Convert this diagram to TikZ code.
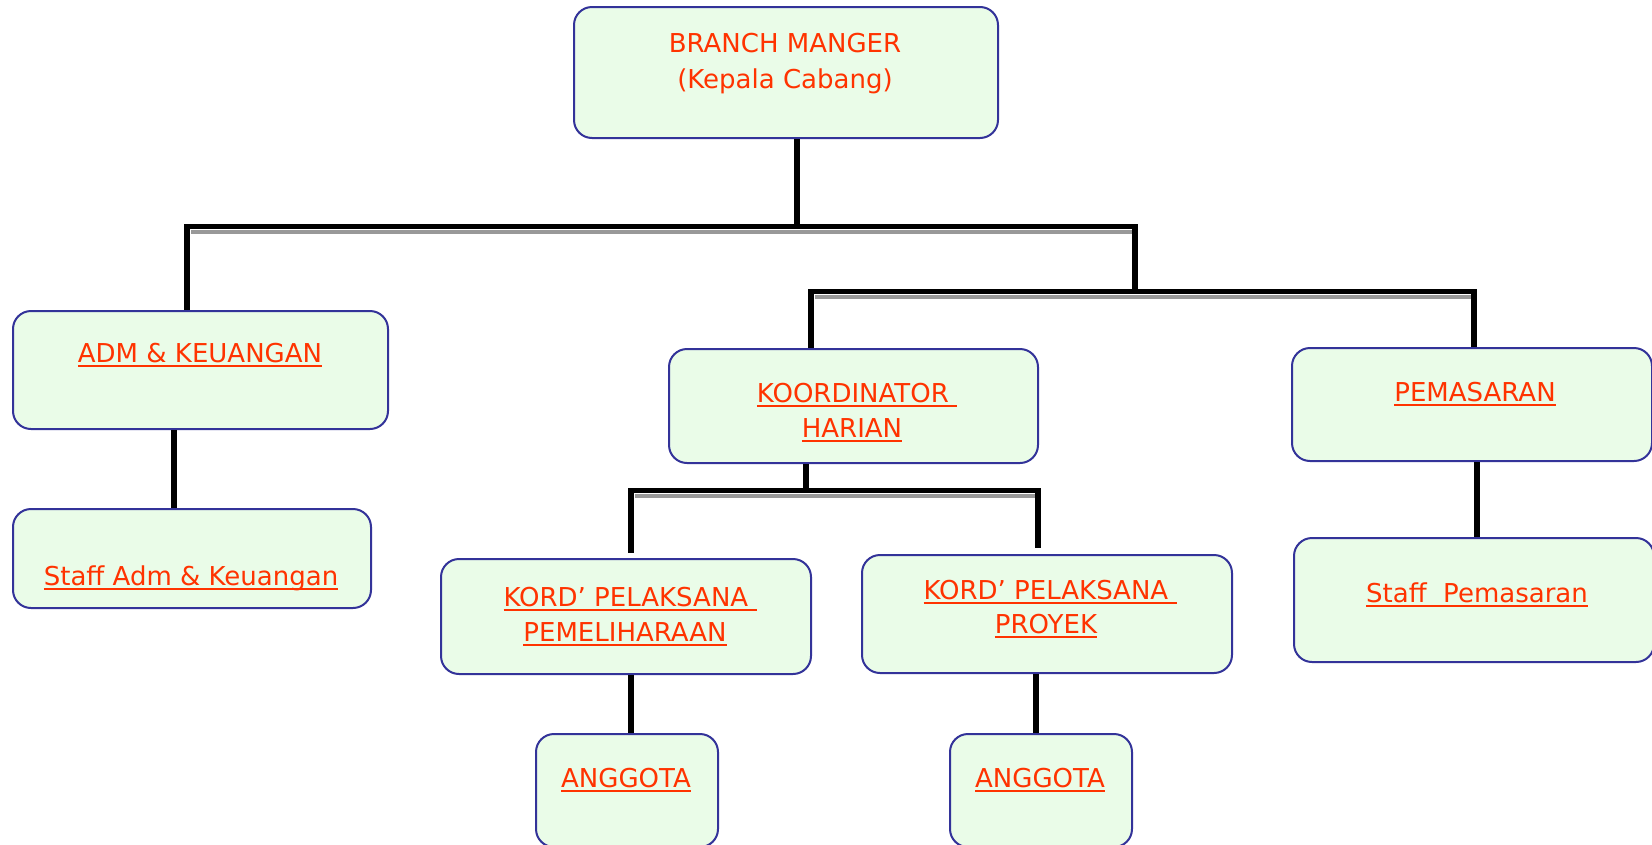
\documentclass[tikz,border=0pt]{standalone}
\usepackage{fontspec}
\setmainfont{DejaVu Sans}
\usetikzlibrary{calc}
\definecolor{boxline}{RGB}{51,51,153}
\definecolor{boxfill}{RGB}{234,252,232}
\definecolor{txtred}{RGB}{255,51,0}
\newcommand\ulx[1]{\setbox0\hbox{#1}\rlap{\rule[-4.7pt]{\wd0}{2pt}}\box0}
\tikzset{
  orgbox/.style={draw=boxline, line width=2pt, fill=boxfill, rounded corners=18pt, inner sep=0pt, anchor=north west},
  txt/.style={text=txtred, font=\fontsize{26}{35}\selectfont, inner sep=0pt, anchor=base},
  conn/.style={line width=5.5pt, black},
  barline/.style={line width=5pt, black},
  barshade/.style={line width=4pt, black!40},
}
\begin{document}
\begin{tikzpicture}[x=1pt,y=-1pt]
\useasboundingbox (0,0) rectangle (1652,844);
\clip (0,0) rectangle (1652,844);
% boxes
\node[orgbox, minimum width=424pt, minimum height=131pt] (bm) at (573,6) {};
\node[orgbox, minimum width=375pt, minimum height=118pt] (adm) at (12,310) {};
\node[orgbox, minimum width=358pt, minimum height=99pt] (sadm) at (12,508) {};
\node[orgbox, minimum width=369pt, minimum height=114pt] (koor) at (668,348) {};
\node[orgbox, minimum width=360pt, minimum height=113pt] (pem) at (1291,347) {};
\node[orgbox, minimum width=360pt, minimum height=124pt] (spem) at (1293,537) {};
\node[orgbox, minimum width=370pt, minimum height=115pt] (kp1) at (440,558) {};
\node[orgbox, minimum width=370pt, minimum height=118pt] (kp2) at (861,554) {};
\node[orgbox, minimum width=182pt, minimum height=113pt] (ang1) at (535,733) {};
\node[orgbox, minimum width=182pt, minimum height=113pt] (ang2) at (949,733) {};
% texts
\node[txt] (bmt1) at (785,52) {BRANCH MANGER};
\node[txt] (bmt2) at (785,88) {(Kepala Cabang)};
\node[txt] (admt) at (200,362.5) {\ulx{ADM \& KEUANGAN}};
\node[txt] (sadmt) at (191,585.5) {\ulx{Staff Adm \& Keuangan}};
\node[txt] (koort1) at (857,402.5) {\ulx{KOORDINATOR\ }};
\node[txt] (koort2) at (852,437.5) {\ulx{HARIAN}};
\node[txt] (pemt) at (1475,401.5) {\ulx{PEMASARAN}};
\node[txt] (spemt) at (1477,602.5) {\ulx{Staff\ \ Pemasaran}};
\node[txt] (kp1t1) at (630,606.5) {\ulx{KORD’ PELAKSANA\ }};
\node[txt] (kp1t2) at (625,641.5) {\ulx{PEMELIHARAAN}};
\node[txt] (kp2t1) at (1050,599.5) {\ulx{KORD’ PELAKSANA\ }};
\node[txt] (kp2t2) at (1046,633.5) {\ulx{PROYEK}};
\node[txt] (ang1t) at (626,787.5) {\ulx{ANGGOTA}};
\node[txt] (ang2t) at (1040,787.5) {\ulx{ANGGOTA}};
% bar coordinates
\coordinate (b1l) at (187,226);
\coordinate (b1m) at (797,226);
\coordinate (b1r) at (1135,226);
\coordinate (b2l) at (811,291);
\coordinate (b2m) at (1135,291);
\coordinate (b2r) at (1474,291);
\coordinate (b3l) at (631,490);
\coordinate (b3m) at (806,490);
\coordinate (b3r) at (1038,490);
\coordinate (k1top) at (631,553);
\coordinate (k2top) at (1038,548);
% bar shading
\draw[barshade] ($(b1l)+(4,5.5)$) -- ($(b1r)+(0,5.5)$);
\draw[barshade] ($(b2l)+(4,5.5)$) -- ($(b2r)+(0,5.5)$);
\draw[barshade] ($(b3l)+(4,5.5)$) -- ($(b3r)+(0,5.5)$);
% bars
\draw[barline] ($(b1l)+(-2.75,0)$) -- ($(b1r)+(2.75,0)$);
\draw[barline] ($(b2l)+(-2.75,0)$) -- ($(b2r)+(2.75,0)$);
\draw[barline] ($(b3l)+(-2.75,0)$) -- ($(b3r)+(2.75,0)$);
% connectors
\draw[conn] (bm.south -| b1m) -- (b1m);
\draw[conn] (b1l) -- (adm.north -| b1l);
\draw[conn] (b1r) -- (b2m);
\draw[conn] (b2l) -- (koor.north -| b2l);
\draw[conn] (b2r) -- (pem.north -| b2r);
\draw[conn] (koor.south -| b3m) -- (b3m);
\draw[conn] (b3l) -- (k1top);
\draw[conn] (b3r) -- (k2top);
\draw[conn] (adm.south -| 174,0) -- (sadm.north -| 174,0);
\draw[conn] (pem.south -| 1477,0) -- (spem.north -| 1477,0);
\draw[conn] (kp1.south -| 631,0) -- (ang1.north -| 631,0);
\draw[conn] (kp2.south -| 1036,0) -- (ang2.north -| 1036,0);
\end{tikzpicture}
\end{document}
